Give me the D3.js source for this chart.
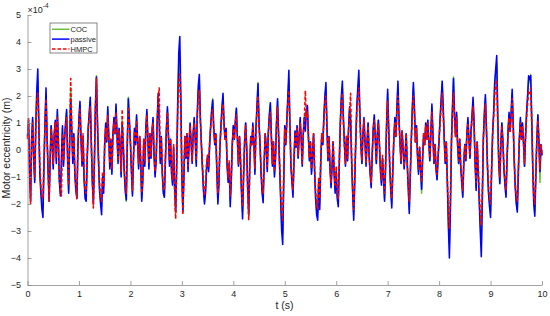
<!DOCTYPE html>
<html lang="en">

<head>
    <meta charset="UTF-8">
    <title>Motor eccentricity</title>
    <script src="https://d3js.org/d3.v7.min.js"></script>
    <style>
        body {
            margin: 0;
            background: white;
        }

        svg {
            font-family: "Liberation Sans", Arial, sans-serif;
        }

        .axis path,
        .axis line {
            stroke: #8a8a8a;
            stroke-width: 0.8;
        }

        .axis text {
            fill: #262626;
            font-size: 9px;
        }

        .series {
            fill: none;
            stroke-width: 1.55;
            stroke-linejoin: round;
        }

        .legend-text {
            font-size: 7.5px;
            fill: #262626;
        }
    </style>
</head>

<body>
    <script>
        // sample step of the signals (s)
        const dt = 0.02;

        // values in units of 1e-4 m, one row = 0.5 s
        const passive = [
            0.5, 1.1, -0.8, -1.9, 0.4, 1.2, -0.3, -1.2, 0.8, 2.2, 3.0, 1.0, -0.9, -1.6, -2.2, -2.5, -0.6, 1.0, 2.3, 0.5, -0.8, -1.9, -0.4, 0.9, 0.2,
            -0.7, 0.6, 1.1, -0.5, 1.5, 0.3, -1.2, -1.7, -0.2, 0.9, -0.6, 0.4, 1.0, 1.5, -0.4, -1.6, 0.3, 1.9, 0.7, -0.5, 0.6, -0.9, -1.5, -1.8, 0.1,
            1.2, 1.8, 0.4, -0.6, 0.5, -1.1, -1.8, -1.9, -0.4, 0.8, 1.4, 1.95, 0.3, -1.2, -2.0, -0.5, 1.6, 2.7, 1.0, -0.4, -1.5, -2.0, -2.4, -1.0, -1.6,
            0.2, 1.0, 0.3, 1.6, 0.5, -0.7, 0.4, -0.9, 0.6, 1.2, 0.6, 1.7, 0.6, -0.5, 0.8, 0.2, -1.0, 1.0, 0.2, -0.8, -1.5, -1.85, 0.2, 1.9, 1.1,
            0.3, -0.8, -1.7, -0.3, 0.8, 0.2, 1.3, 0.3, -0.7, 0.5, -0.4, -1.9, -1.2, 0.4, -0.6, 0.8, 1.5, 0.4, -0.7, 0.6, -0.3, 0.7, 1.2, -0.2, -1.0,
            -0.4, 1.0, 2.1, 1.0, -0.5, 0.5, -0.9, -1.6, -1.75, -0.4, 0.8, 1.6, 0.5, -0.6, 0.4, -0.9, -1.3, 0.1, -1.4, -2.3, -0.5, 1.8, 3.6, 4.2, 2.0,
            -0.9, -2.3, -1.0, 0.5, -0.3, 0.6, -0.8, 0.2, 1.0, 0.3, -0.5, 0.6, 1.2, 0.4, -0.6, 1.4, 2.4, 2.8, 1.2, 0.2, -0.7, -1.5, -2.0, -1.6, -0.7,
            -0.2, -0.8, 0.2, 0.9, 1.5, 1.85, 0.8, 0.2, 0.6, -0.8, -2.0, -1.3, 0.1, 0.9, 1.6, 2.1, 1.0, 0.4, 0.8, -0.6, -1.2, -0.5, -2.1, -1.2, 0.2,
            0.9, 0.4, 1.1, 1.55, 0.4, -0.6, 0.5, -0.4, -1.6, -2.55, -1.0, 0.3, 1.0, 0.1, -1.4, -2.4, -0.6, 0.5, 0.2, 1.0, 0.3, -0.9, 0.8, 1.6, 2.45,
            1.0, 0.2, -0.9, -1.6, -1.95, -0.5, 0.6, 0.1, -0.8, 0.6, 1.3, 1.75, 0.5, -0.6, 0.3, -1.0, -0.3, 1.0, 1.9, 0.6, -0.6, -1.8, -3.0, -3.5, -1.2,
            0.9, 0.2, 1.1, 2.0, 2.95, 1.0, -0.6, -1.2, -1.75, -0.4, 0.7, 0.1, 0.9, -0.3, 0.5, 1.2, 0.4, -0.6, 0.6, 1.2, 0.7, 1.4, 1.65, 0.5, -0.4,
            0.3, -0.9, -0.2, 0.6, -0.8, -1.8, -2.4, -2.6, -1.2, -2.2, -0.4, 0.6, 0.2, 1.2, 2.0, 2.5, 0.9, -0.4, 0.5, -0.7, -1.4, -0.6, 0.3, -0.9, -1.6,
            -0.8, -1.8, -2.1, -0.5, 1.0, 2.0, 2.55, 1.2, 0.2, -0.6, 0.5, -0.4, 0.8, 1.6, 1.0, -0.4, -1.6, -2.6, -1.2, 0.3, 1.6, 2.3, 2.95, 1.4, 0.2,
            -0.5, 0.6, 1.2, 0.3, -0.6, 0.3, 1.0, -0.2, -0.9, -1.4, -0.2, 0.8, 1.3, 0.4, -0.5, 0.6, 1.1, 0.2, -0.8, -1.3, -0.3, -1.1, -1.9, -0.6, 1.0,
            2.25, 0.8, -0.6, -1.5, -2.15, -0.8, 0.4, 1.2, 0.5, 1.6, 2.55, 1.2, 0.3, -0.5, 0.7, 0.1, -0.7, -0.2, 0.6, -0.5, -1.4, -2.35, -1.0, 0.4, 1.6,
            2.5, 1.6, 0.3, 0.9, -0.2, -0.9, 0.1, -0.7, -1.45, -0.3, 0.6, 0.2, 1.0, 0.4, 1.1, 0.3, -0.4, 0.6, 1.7, 0.6, -0.5, 0.2, -0.7, -1.1, -0.3,
            0.4, 1.2, 1.9, 2.55, 1.6, 0.4, -0.5, 0.3, -1.2, -2.8, -4.0, -2.2, 0.3, 1.6, 2.65, 1.3, 0.5, 1.4, 0.2, -0.5, 0.4, -0.6, -1.2, -1.75, -0.5,
            0.2, -0.4, 0.6, 1.2, 0.4, -0.3, 0.7, 1.3, 1.95, 1.0, -0.5, -1.5, 0.3, -0.8, -1.9, -3.0, -3.95, -1.9, 0.4, 1.4, 2.05, 0.8, -0.6, -1.6, -2.1,
            -2.5, -0.8, 0.6, 1.4, 2.5, 3.0, 3.5, 1.2, -0.5, -1.25, 0.2, 1.0, 0.3, -0.7, -1.3, -1.75, -0.4, 0.7, 1.4, 0.7, 1.4, 2.25, 1.0, -0.4, -1.4,
            -2.0, -2.3, -0.9, 0.4, 1.2, 0.4, 1.0, 0.3, -0.6, 0.5, 1.4, 2.0, 2.75, 2.6, 2.75, 1.2, -0.6, -2.0, -2.45, -1.0, 0.4, 1.3, 0.3, -0.8, 0.2, -0.2
        ];

        const hmpc = [
            0.4, 1.2, -0.6, -2.0, 0.3, 1.0, -0.2, -1.0, 0.7, 1.8, 2.1, 0.9, -0.6, -1.3, -1.7, -1.8, -0.4, 0.9, 1.9, 0.5, -0.6, -1.9, -0.3, 0.8, 0.3,
            -0.5, 0.6, 1.0, -0.3, 1.2, 0.4, -1.0, -1.5, -1.7, 0.6, -0.4, 0.5, 0.9, 1.2, -0.2, -1.3, 0.6, 2.65, 0.9, -0.2, 0.5, -0.8, -1.3, -1.8, 0.2,
            1.0, 1.5, 0.5, -0.4, 0.6, -0.9, -1.5, -1.6, -0.2, 0.7, 1.2, 1.6, 0.2, -1.1, -2.15, -0.4, 1.5, 2.65, 0.9, -0.3, -1.2, -1.7, -1.9, -0.8, -1.3,
            0.2, 0.8, 0.4, 1.3, 0.4, -0.5, 0.4, -0.7, 0.5, 1.0, 0.6, 1.4, 0.5, -0.4, 0.7, 0.3, -0.8, 1.5, 0.3, -0.6, -1.2, -1.6, 0.3, 1.6, 1.0,
            0.3, -0.6, -1.5, -0.2, 0.7, 0.3, 1.1, 0.3, -0.5, 0.5, -0.3, -1.6, -1.0, 0.4, -0.4, 0.7, 1.3, 0.4, -0.5, 0.6, -0.2, 0.7, 1.0, -0.1, -0.8,
            -0.3, 1.0, 1.9, 2.3, -0.3, 0.5, -0.8, -1.4, -1.5, -0.3, 0.7, 1.4, 0.5, -0.4, 0.4, -0.7, -1.1, 0.2, -1.6, -2.55, -0.6, 1.4, 2.4, 2.8, 1.5,
            -1.0, -2.4, -0.8, 0.5, -0.2, 0.6, -0.6, 0.3, 0.9, 0.3, -0.4, 0.6, 1.0, 0.4, -0.4, 1.2, 1.9, 2.2, 1.0, 0.2, -0.5, -1.2, -1.7, -1.3, -0.5,
            -0.2, -0.6, 0.3, 0.8, 1.3, 1.5, 0.7, 0.3, 0.6, -0.6, -1.6, -1.1, 0.2, 0.8, 1.3, 1.7, 0.9, 0.4, 0.7, -0.5, -1.0, -0.4, -1.7, -1.0, 0.2,
            0.8, 0.4, 1.0, 1.3, 0.4, -0.5, 0.5, -0.3, -1.4, -2.1, -0.8, 0.3, 0.9, 0.0, -1.6, -2.6, -0.5, 0.5, 0.2, 0.9, 0.3, -0.7, 0.7, 1.4, 2.0,
            0.9, 0.2, -0.7, -1.3, -1.6, -0.4, 0.6, 0.1, -0.6, 0.6, 1.1, 1.4, 0.5, -0.5, 0.3, -0.8, -0.2, 0.9, 1.6, 0.5, -0.5, -1.5, -2.2, -2.6, -1.0,
            0.8, 0.3, 1.0, 1.7, 2.2, 0.9, -0.5, -1.0, -1.5, -0.3, 0.6, 0.2, 0.8, -0.2, 0.5, 1.0, 0.4, -0.5, 0.6, 1.1, 2.2, 1.2, 1.4, 0.5, -0.3,
            0.3, -0.7, -0.1, 0.6, -0.6, -1.5, -2.0, -2.2, -1.0, -1.8, -0.3, 0.6, 0.3, 1.1, 1.7, 2.0, 0.8, -0.3, 0.5, -0.6, -1.2, -0.5, 0.3, -0.7, -1.3,
            -0.6, -1.5, -1.8, -0.4, 0.9, 1.7, 2.1, 1.0, 0.2, -0.5, 0.5, -0.3, 0.7, 1.4, 2.1, -0.3, -1.4, -2.2, -1.0, 0.3, 1.4, 1.9, 2.3, 1.2, 0.2,
            -0.4, 0.6, 1.1, 0.3, -0.5, 0.3, 0.9, -0.1, -0.8, -1.2, -0.1, 0.7, 1.1, 0.4, -0.4, 0.6, 1.0, 0.2, -0.6, -1.1, -0.2, -0.9, -1.6, -0.5, 0.9,
            1.8, 0.7, -0.5, -1.3, -1.8, -0.7, 0.4, 1.0, 0.5, 1.4, 2.0, 1.0, 0.3, -0.4, 0.7, 0.2, -0.6, -0.1, 0.6, -0.4, -1.2, -1.9, -0.8, 0.4, 1.3,
            2.0, 1.4, 0.3, 0.8, -0.1, -0.7, 0.1, -0.6, -1.2, -0.2, 0.6, 0.2, 0.9, 0.4, 1.0, 0.3, -0.3, 0.6, 1.4, 0.5, -0.4, 0.2, -0.6, -0.9, -0.2,
            0.4, 1.0, 1.6, 2.1, 1.3, 0.4, -0.4, 0.3, -1.0, -2.2, -2.9, -1.6, 0.3, 1.4, 2.1, 1.1, 0.5, 1.2, 0.2, -0.4, 0.4, -0.5, -1.0, -1.5, -0.4,
            0.2, -0.3, 0.6, 1.0, 0.4, -0.2, 0.6, 1.1, 1.6, 0.9, -0.4, -1.2, 0.3, -0.6, -1.5, -2.3, -2.8, -1.5, 0.4, 1.2, 1.7, 0.7, -0.5, -1.3, -1.8,
            -2.0, -0.7, 0.5, 1.2, 2.0, 2.4, 2.6, 1.0, -0.4, -1.0, 0.2, 0.9, 0.3, -0.6, -1.1, -1.5, -0.3, 0.6, 1.2, 0.7, 1.2, 1.9, 0.9, -0.3, -1.2,
            -1.7, -1.9, -0.7, 0.4, 1.0, 0.4, 0.9, 0.3, -0.5, 0.5, 1.2, 1.7, 2.2, 2.1, 2.3, 1.0, -0.5, -1.7, -2.0, -0.8, 0.4, 1.1, 0.3, -0.7, 0.2, -0.1
        ];

        const coc = [
            0.5, 1.0, -0.7, -1.8, 0.4, 1.1, -0.2, -1.1, 0.8, 2.0, 2.6, 0.9, -0.8, -1.5, -1.9, -2.1, -0.5, 1.0, 2.1, 0.5, -0.7, -1.8, -0.3, 0.9, 0.3,
            -0.6, 0.6, 1.0, -0.4, 1.4, 0.3, -1.1, -1.6, -0.9, 0.8, -0.5, 0.4, 0.9, 1.4, -0.3, -1.5, 0.4, 2.3, 0.8, -0.4, 0.6, -0.8, -1.4, -1.7, 0.1,
            1.1, 1.7, 0.4, -0.5, 0.5, -1.0, -1.7, -1.8, -0.3, 0.8, 1.3, 1.8, 0.3, -1.1, -1.9, -0.4, 1.6, 2.75, 1.0, -0.4, -1.4, -1.9, -2.1, -0.9, -1.4,
            0.2, 0.9, 0.3, 1.5, 0.5, -0.6, 0.4, -0.8, 0.6, 1.1, 0.6, 1.6, 0.6, -0.4, 0.8, 0.2, -0.9, 1.1, 0.2, -0.7, -1.5, -1.9, 0.3, 1.95, 1.0,
            0.3, -0.7, -1.6, -0.3, 0.8, 0.2, 1.2, 0.3, -0.6, 0.5, -0.4, -1.8, -1.1, 0.4, -0.5, 0.8, 1.4, 0.4, -0.6, 0.6, -0.3, 0.7, 1.1, -0.2, -0.9,
            -0.4, 1.0, 2.0, 1.3, -0.4, 0.5, -0.8, -1.5, -1.7, -0.4, 0.8, 1.5, 0.5, -0.5, 0.4, -0.8, -1.2, 0.1, -1.4, -2.3, -0.5, 1.6, 3.0, 3.4, 1.8,
            -0.9, -2.2, -0.9, 0.5, -0.3, 0.6, -0.7, 0.2, 0.9, 0.3, -0.4, 0.6, 1.1, 0.4, -0.5, 1.3, 2.2, 2.5, 1.1, 0.2, -0.6, -1.4, -1.9, -1.5, -0.6,
            -0.2, -0.7, 0.2, 0.9, 1.4, 1.9, 0.8, 0.2, 0.6, -0.7, -1.8, -1.2, 0.1, 0.9, 1.5, 2.0, 0.9, 0.4, 0.8, -0.5, -1.1, -0.5, -1.9, -1.1, 0.2,
            0.9, 0.4, 1.0, 1.5, 0.4, -0.5, 0.5, -0.4, -1.5, -2.3, -0.9, 0.3, 1.0, 0.1, -1.4, -2.4, -0.5, 0.5, 0.2, 0.9, 0.3, -0.8, 0.8, 1.6, 2.5,
            1.0, 0.2, -0.8, -1.5, -1.8, -0.5, 0.6, 0.1, -0.7, 0.6, 1.2, 1.7, 0.5, -0.5, 0.3, -0.9, -0.3, 1.0, 1.8, 0.6, -0.5, -1.7, -2.7, -3.1, -1.1,
            0.9, 0.2, 1.0, 1.8, 2.6, 0.9, -0.5, -1.1, -1.6, -0.4, 0.7, 0.1, 0.9, -0.3, 0.5, 1.1, 0.4, -0.5, 0.6, 1.2, 1.4, 1.3, 1.6, 0.5, -0.4,
            0.3, -0.8, -0.2, 0.6, -0.7, -1.7, -2.2, -2.4, -1.1, -2.0, -0.4, 0.6, 0.2, 1.2, 1.9, 2.3, 0.9, -0.4, 0.5, -0.6, -1.3, -0.6, 0.3, -0.8, -1.5,
            -0.7, -1.7, -1.9, -0.5, 1.0, 1.9, 2.3, 1.1, 0.2, -0.5, 0.5, -0.4, 0.8, 1.5, 1.5, -0.4, -1.5, -2.4, -1.1, 0.3, 1.5, 2.1, 2.6, 1.3, 0.2,
            -0.5, 0.6, 1.1, 0.3, -0.5, 0.3, 1.0, -0.2, -0.8, -1.3, -0.2, 0.8, 1.2, 0.4, -0.5, 0.6, 1.1, 0.2, -0.7, -1.2, -0.3, -1.0, -1.8, -0.6, 1.0,
            2.1, 0.8, -0.5, -1.4, -2.0, -0.7, 0.4, 1.1, 0.5, 1.5, 2.3, 1.1, 0.3, -0.5, 0.7, 0.1, -0.6, -0.2, 0.6, -0.5, -1.3, -2.2, -0.9, 0.4, 1.5,
            2.3, 1.5, 0.3, 0.9, -0.2, -0.8, 0.1, -0.7, -1.6, -0.3, 0.6, 0.2, 1.0, 0.4, 1.1, 0.3, -0.4, 0.6, 1.6, 0.6, -0.5, 0.2, -0.7, -1.1, -0.3,
            0.4, 1.1, 1.8, 2.4, 1.5, 0.4, -0.5, 0.3, -1.1, -2.6, -3.5, -2.0, 0.3, 1.5, 2.7, 1.2, 0.5, 1.3, 0.2, -0.5, 0.4, -0.6, -1.1, -1.7, -0.5,
            0.2, -0.4, 0.6, 1.1, 0.4, -0.3, 0.7, 1.2, 1.8, 0.9, -0.5, -1.4, 0.3, -0.7, -1.8, -2.7, -3.5, -1.7, 0.4, 1.3, 1.9, 0.8, -0.6, -1.5, -1.9,
            -2.3, -0.8, 0.6, 1.3, 2.3, 2.8, 3.2, 1.1, -0.5, -1.2, 0.2, 1.0, 0.3, -0.7, -1.2, -1.7, -0.4, 0.7, 1.3, 0.7, 1.3, 2.1, 1.0, -0.4, -1.3,
            -1.9, -2.2, -0.8, 0.4, 1.1, 0.4, 1.0, 0.3, -0.6, 0.5, 1.3, 1.9, 2.6, 2.5, 2.8, 1.1, -0.6, -1.9, -2.3, -0.9, 0.4, 1.3, 0.3, -1.2, 0.2, -0.2
        ];

        const xTicks = [0, 1, 2, 3, 4, 5, 6, 7, 8, 9, 10];
        const yTicks = [-5, -4, -3, -2, -1, 0, 1, 2, 3, 4, 5];

        // series in drawing order (legend uses the same order)
        const series = [
            { name: "COC", values: coc, color: "#6cbf3c", dash: null },
            { name: "passive", values: passive, color: "#0000ff", dash: null },
            { name: "HMPC", values: hmpc, color: "#ff0000", dash: "3.5,2" }
        ];

        const width = 550, height = 316;
        const margin = { top: 15, right: 8, bottom: 31, left: 27.5 };

        const svg = d3.select("body").append("svg")
            .attr("width", width)
            .attr("height", height);

        const x = d3.scaleLinear()
            .domain([0, 10])
            .range([margin.left, width - margin.right]);

        const y = d3.scaleLinear()
            .domain([-5, 5])
            .range([height - margin.bottom, margin.top]);

        // lines
        const line = d3.line()
            .x(function (d, i) { return x(i * dt); })
            .y(function (d) { return y(d); });

        svg.selectAll(".series")
            .data(series)
            .enter().append("path")
            .attr("class", "series")
            .attr("d", function (d) { return line(d.values); })
            .style("stroke", function (d) { return d.color; })
            .style("stroke-dasharray", function (d) { return d.dash; });

        // x os (ticks inward, no box)
        svg.append("g")
            .attr("class", "axis")
            .attr("transform", "translate(0," + (height - margin.bottom) + ")")
            .call(d3.axisBottom(x).tickValues(xTicks).tickSizeInner(-4).tickSizeOuter(0).tickPadding(5.5));

        // y os
        svg.append("g")
            .attr("class", "axis")
            .attr("transform", "translate(" + margin.left + ",0)")
            .call(d3.axisLeft(y).tickValues(yTicks).tickSizeInner(-4).tickSizeOuter(0).tickPadding(6.5));

        // exponent label
        const expo = svg.append("text")
            .attr("x", margin.left)
            .attr("y", 12.5)
            .style("font-size", "9px")
            .style("fill", "#262626");
        expo.append("tspan").text("×10");
        expo.append("tspan").attr("dy", -4.5).style("font-size", "6.5px").text("-4");

        // axis labels
        svg.append("text")
            .attr("x", 284.5)
            .attr("y", 309)
            .attr("text-anchor", "middle")
            .style("font-size", "10.5px")
            .style("fill", "#262626")
            .text("t (s)");

        svg.append("text")
            .attr("transform", "translate(9.5,148) rotate(-90)")
            .attr("text-anchor", "middle")
            .style("font-size", "10.5px")
            .style("fill", "#262626")
            .text("Motor eccentricity (m)");

        // legend
        const legend = svg.append("g").attr("transform", "translate(50,23)");
        legend.append("rect")
            .attr("width", 47)
            .attr("height", 30)
            .style("fill", "white")
            .style("stroke", "#555")
            .style("stroke-width", 0.7);

        const items = legend.selectAll(".item")
            .data(series)
            .enter().append("g")
            .attr("class", "item")
            .attr("transform", function (d, i) { return "translate(0," + (6.3 + i * 9.8) + ")"; });

        items.append("line")
            .attr("x1", 2)
            .attr("x2", 19.5)
            .style("stroke", function (d) { return d.color; })
            .style("stroke-width", 1.5)
            .style("stroke-dasharray", function (d) { return d.dash; });

        items.append("text")
            .attr("class", "legend-text")
            .attr("x", 20.5)
            .attr("dy", "0.35em")
            .text(function (d) { return d.name; });
    </script>
</body>

</html>
